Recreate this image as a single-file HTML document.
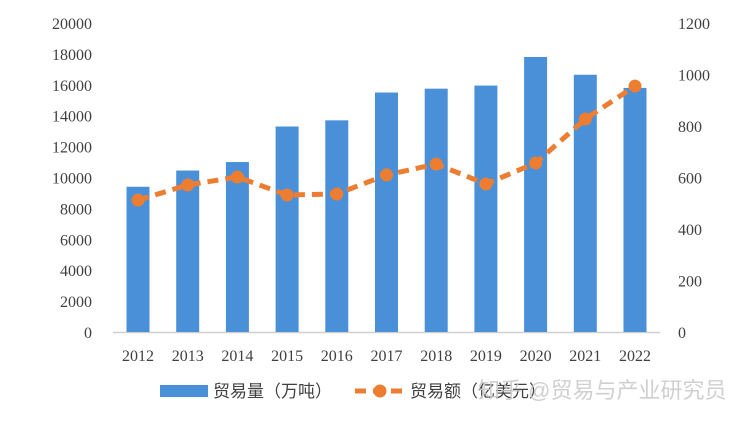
<!DOCTYPE html>
<html><head><meta charset="utf-8"><style>
body{margin:0;background:#fff}
svg{display:block;font-family:"Liberation Serif","Noto Serif CJK SC",serif}
</style></head><body>
<svg width="750" height="421" viewBox="0 0 750 421">
<g id="axes"></g><g id="bars"></g><g id="line"></g>
<g font-family="'Liberation Sans','Noto Sans CJK SC',sans-serif" font-size="17" fill="#404040">
<rect x="160" y="385" width="48" height="12" fill="#4a90d9"/>
<text x="213" y="397">贸易量（万吨）</text>
<line x1="355" y1="391" x2="405" y2="391" stroke="#ed7d31" stroke-width="5" stroke-dasharray="11,7"/>
<circle cx="380" cy="391" r="6.5" fill="#ed7d31"/>
<text x="410" y="397">贸易额（亿美元）</text>
<text x="478" y="398" font-size="22" fill="#c8c8c8" fill-opacity="0.85">知乎 @贸易与产业研究员</text>
</g>
</svg>
<script>
const years=["2012","2013","2014","2015","2016","2017","2018","2019","2020","2021","2022"];
const volume=[9400,10450,11000,13300,13700,15500,15750,15950,17800,16650,15800];
const value=[512,571,602,532,536,610,652,575,656,827,955];
const leftTicks=[0,2000,4000,6000,8000,10000,12000,14000,16000,18000,20000];
const rightTicks=[0,200,400,600,800,1000,1200];
const NS="http://www.w3.org/2000/svg";
const plotTop=23,bot=332,x0=138,step=49.7;
const yL=v=>bot-(v/20000)*(bot-plotTop);
const yR=v=>bot-(v/1200)*(bot-plotTop);
const xC=i=>x0+i*step;
function mk(t,a,p){const e=document.createElementNS(NS,t);for(const k in a)e.setAttribute(k,a[k]);p.appendChild(e);return e;}
const ax=document.getElementById('axes'),bg=document.getElementById('bars'),lg=document.getElementById('line');
leftTicks.forEach(v=>{const t=mk('text',{x:92,y:yL(v)+6,'text-anchor':'end','font-size':16,fill:'#404040'},ax);t.textContent=v;

});
rightTicks.forEach(v=>{const t=mk('text',{x:678,y:yR(v)+6,'font-size':16,fill:'#404040'},ax);t.textContent=v;

});
years.forEach((y,i)=>{const t=mk('text',{x:xC(i),y:361,'text-anchor':'middle','font-size':16,fill:'#404040'},ax);t.textContent=y;

});
const base=mk('line',{x1:113,x2:660,y1:bot+0.5,y2:bot+0.5,stroke:'#d0d0d0','stroke-width':1.5},ax);


volume.forEach((v,i)=>{const r=mk('rect',{x:xC(i)-11.5,y:yL(v),width:23,height:bot-yL(v),fill:'#4a90d9'},bg);

});
const pl=mk('polyline',{points:value.map((v,i)=>xC(i)+','+yR(v)).join(' '),fill:'none',stroke:'#ed7d31','stroke-width':5,'stroke-dasharray':'11,7'},lg);


value.forEach((v,i)=>{const c=mk('circle',{cx:xC(i),cy:yR(v),r:6.5,fill:'#ed7d31'},lg);

});
</script>
</body></html>
